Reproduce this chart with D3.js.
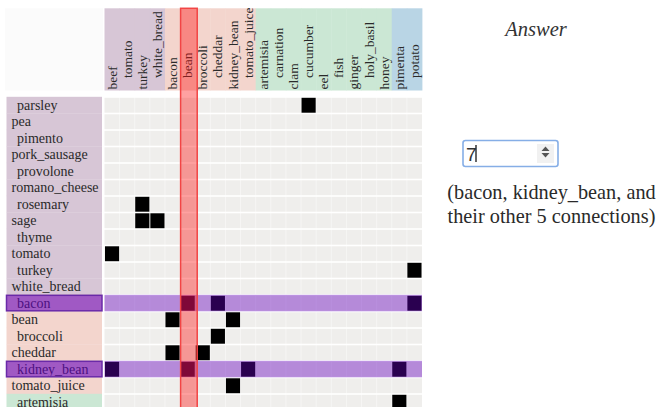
<!DOCTYPE html>
<html><head><meta charset="utf-8">
<script src="https://cdn.jsdelivr.net/npm/d3@7"></script>
<style>body{margin:0;background:#fff}svg{display:block}</style>
</head><body>
<script>
// ---- data ----
const colNames = ["beef","tomato","turkey","white_bread","bacon","bean","broccoli","cheddar","kidney_bean","tomato_juice","artemisia","carnation","clam","cucumber","eel","fish","ginger","holy_basil","honey","pimenta","potato"];
const colGroups = ["A","A","A","A","B","B","B","B","B","B","C","C","C","C","C","C","C","C","C","D","D"];
const rowNames = ["parsley","pea","pimento","pork_sausage","provolone","romano_cheese","rosemary","sage","thyme","tomato","turkey","white_bread","bacon","bean","broccoli","cheddar","kidney_bean","tomato_juice","artemisia"];
const rowGroups = ["A","A","A","A","A","A","A","A","A","A","A","A","B","B","B","B","B","B","C"];
const links = [["parsley","cucumber"],["rosemary","turkey"],["sage","turkey"],["sage","white_bread"],["tomato","beef"],["turkey","potato"],["bacon","bean"],["bacon","cheddar"],["bacon","potato"],["bean","bacon"],["bean","kidney_bean"],["broccoli","cheddar"],["cheddar","bacon"],["cheddar","broccoli"],["kidney_bean","beef"],["kidney_bean","bean"],["kidney_bean","tomato_juice"],["kidney_bean","pimenta"],["tomato_juice","kidney_bean"],["artemisia","pimenta"]];
const highlightRows = ["bacon","kidney_bean"];
const highlightCol = "bean";
const answerValue = "7";
const answerTitle = "Answer";
const answerNote = ["(bacon, kidney_bean, and","their other 5 connections)"];

// ---- styles ----
const groupColor = {A:"#d7c6d6",B:"#f3d5cd",C:"#cbe7d4",D:"#b9d5e5"};
const W = 662, H = 407;
const svg = d3.select("body").append("svg").attr("width",W).attr("height",H);

const x = d3.scaleBand().domain(colNames).range([104.5,422]).paddingInner(0);
const y = d3.scaleBand().domain(rowNames).range([96.8, 96.8 + 16.5*rowNames.length]);
const headTop = 8.3, headBot = 90.5, clipTop = 95.5;

svg.append("defs").append("clipPath").attr("id","clipm")
  .append("rect").attr("x",0).attr("y",clipTop).attr("width",430).attr("height",H-clipTop);

// corner
svg.append("rect").attr("x",5).attr("y",headTop).attr("width",98).attr("height",headBot-headTop).attr("fill","#fbfbfb");

// header backgrounds
const hdr = svg.append("g");
hdr.selectAll("rect").data(colNames).join("rect")
  .attr("x",d=>x(d)).attr("width",x.bandwidth()+0.4)
  .attr("y",headTop).attr("height",headBot-headTop)
  .attr("fill",(d,i)=>groupColor[colGroups[i]]);
// column labels, staggered per group
const grpIndex = colNames.map((d,i)=>{let k=0;for(let j=i-1;j>=0&&colGroups[j]===colGroups[i];j--)k++;return k;});
hdr.selectAll("text").data(colNames).join("text")
  .attr("transform",(d,i)=>`translate(${x(d)+x.bandwidth()/2+4.5},${grpIndex[i]%2===0?89.5:78}) rotate(-90)`)
  .attr("font-family","Liberation Serif, Times New Roman, serif").attr("font-size",13.5)
  .attr("fill","#2a2a2a").text(d=>d);

const body = svg.append("g").attr("clip-path","url(#clipm)");
// row label backgrounds
body.selectAll("rect.lbl").data(rowNames).join("rect").attr("class","lbl")
  .attr("x",6.5).attr("width",95.5).attr("y",d=>y(d)).attr("height",y.bandwidth()+0.3)
  .attr("fill",(d,i)=>groupColor[rowGroups[i]]);
// matrix cell rows
body.selectAll("rect.row").data(rowNames).join("rect").attr("class","row")
  .attr("x",x.range()[0]).attr("width",x.range()[1]-x.range()[0])
  .attr("y",d=>y(d)+1).attr("height",y.bandwidth()-1.6).attr("fill","#efeeec");
// faint vertical separators
body.selectAll("line.v").data(colNames.slice(1)).join("line").attr("class","v")
  .attr("x1",d=>x(d)).attr("x2",d=>x(d)).attr("y1",clipTop).attr("y2",H)
  .attr("stroke","#fff").attr("stroke-opacity",0.45).attr("stroke-width",1);
// connection cells
body.selectAll("rect.cell").data(links).join("rect").attr("class","cell")
  .attr("x",d=>x(d[1])+0.5).attr("width",x.bandwidth()-1)
  .attr("y",d=>y(d[0])+1).attr("height",y.bandwidth()-1.6).attr("fill","#000");
// row labels
body.selectAll("text.rl").data(rowNames).join("text").attr("class","rl")
  .attr("x",(d,i)=>i%2===0?17:11.5).attr("y",d=>y(d)+y.bandwidth()/2+4.6)
  .attr("font-family","Liberation Serif, Times New Roman, serif").attr("font-size",14)
  .attr("fill","#2a2a2a").text(d=>d);
// highlighted rows
const hl = body.selectAll("g.hl").data(highlightRows).join("g").attr("class","hl");
hl.append("rect").attr("x",x.range()[0]).attr("width",x.range()[1]-x.range()[0])
  .attr("y",d=>y(d)).attr("height",y.bandwidth())
  .attr("fill","rgb(100,0,190)").attr("fill-opacity",0.42);
hl.append("rect").attr("x",6.5).attr("width",95.5)
  .attr("y",d=>y(d)+0.5).attr("height",y.bandwidth()-1)
  .attr("fill","rgb(100,0,190)").attr("fill-opacity",0.58)
  .attr("stroke","#6a2aa8").attr("stroke-width",1.5);
// highlighted column
svg.append("rect").attr("x",x(highlightCol)+0.5).attr("width",x.bandwidth()+1.5)
  .attr("y",headTop).attr("height",H-headTop+2)
  .attr("fill","rgb(255,20,20)").attr("fill-opacity",0.4)
  .attr("stroke","#f24545").attr("stroke-width",1.5);

// ---- answer panel ----
const serif = "Liberation Serif, Times New Roman, serif";
svg.append("text").attr("x",536).attr("y",36).attr("text-anchor","middle")
  .attr("font-family",serif).attr("font-style","italic").attr("font-size",20.5)
  .attr("fill","#333").text(answerTitle);
svg.append("rect").attr("x",463).attr("y",140.5).attr("width",95).attr("height",26).attr("rx",2.5)
  .attr("fill","#fff").attr("stroke","#86aee6").attr("stroke-width",1.6);
svg.append("rect").attr("x",537).attr("y",144).attr("width",17).attr("height",19).attr("fill","#f1f1f1");
svg.append("path").attr("d","M541.5,151 L545.5,146.5 L549.5,151 Z M541.5,153 L545.5,157.5 L549.5,153 Z").attr("fill","#555");
svg.append("text").attr("x",466).attr("y",161).attr("font-family","Liberation Sans, Arial, sans-serif")
  .attr("font-size",19).attr("fill","#333").text(answerValue);
svg.append("line").attr("x1",476).attr("x2",476).attr("y1",145).attr("y2",162).attr("stroke","#000").attr("stroke-width",1.2);
svg.selectAll("text.note").data(answerNote).join("text").attr("class","note")
  .attr("x",551.5).attr("y",(d,i)=>199+i*23.5).attr("text-anchor","middle")
  .attr("font-family",serif).attr("font-size",20.3).attr("fill","#2a2a2a").text(d=>d);
</script>
</body></html>
